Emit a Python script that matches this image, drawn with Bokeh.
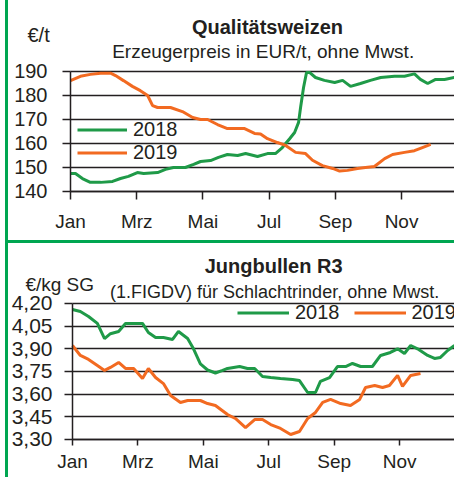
from bokeh.plotting import figure
from bokeh.models import Range1d, FixedTicker, Legend, LegendItem, Label, Div
from bokeh.layouts import row, column
from bokeh.embed import file_html
from bokeh.resources import INLINE

# ---------------- data ----------------
month_ticks = [0, 2, 4, 6, 8, 10]
month_labels = ["Jan", "Mrz", "Mai", "Jul", "Sep", "Nov"]

weizen_ticks = [140, 150, 160, 170, 180, 190]
weizen_labels = ["140", "150", "160", "170", "180", "190"]

weizen_2018_x = [0, 0.15, 0.36, 0.60, 0.91, 1.27, 1.51, 1.75, 2.02, 2.21, 2.63, 2.87, 3.11, 3.47,
                 3.72, 3.93, 4.23, 4.47, 4.74, 5.05, 5.29, 5.65, 5.95, 6.19, 6.40, 6.62, 6.77,
                 6.89, 6.95, 7.04, 7.13, 7.22, 7.40, 7.67, 7.98, 8.22, 8.46, 8.76, 9.06, 9.37,
                 9.79, 10.09, 10.39, 10.57, 10.79, 11.03, 11.30, 11.60]
weizen_2018_y = [147.5, 147.5, 145.4, 143.8, 143.8, 144.2, 145.4, 146.3, 147.9, 147.5, 147.9, 149.2,
                 150.0, 150.0, 151.3, 152.5, 152.9, 154.2, 155.4, 155.0, 155.8, 154.6, 155.8, 155.8,
                 158.3, 162.0, 164.6, 168.8, 175.0, 183.3, 189.6, 189.6, 187.5, 186.3, 185.4, 186.3,
                 183.8, 185.0, 186.3, 187.5, 188.0, 188.0, 189.0, 186.7, 185.0, 186.7, 186.7, 187.5]

weizen_2019_x = [0, 0.30, 0.60, 0.91, 1.21, 1.36, 1.60, 1.87, 2.11, 2.33, 2.48, 2.63, 3.02, 3.38,
                 3.69, 3.93, 4.14, 4.44, 4.74, 5.26, 5.56, 5.74, 5.95, 6.25, 6.50, 6.80, 7.10,
                 7.31, 7.61, 7.92, 8.13, 8.37, 8.67, 8.91, 9.18, 9.49, 9.73, 10.09, 10.39, 10.63,
                 10.88]
weizen_2019_y = [186.2, 188.0, 188.8, 189.3, 189.3, 188.3, 186.2, 183.8, 182.0, 180.0, 175.8, 175.0,
                 175.0, 173.3, 170.8, 170.0, 170.0, 167.9, 166.2, 166.2, 164.2, 164.0, 162.0, 160.4,
                 159.2, 156.3, 155.8, 153.0, 150.8, 149.6, 148.5, 148.8, 149.6, 150.0, 150.4, 153.7,
                 155.4, 156.3, 157.0, 158.3, 159.6]

bullen_ticks = [3.30, 3.45, 3.60, 3.75, 3.90, 4.05, 4.20]
bullen_labels = ["3,30", "3,45", "3,60", "3,75", "3,90", "4,05", "4,20"]

bullen_2018_x = [0, 0.24, 0.49, 0.76, 0.98, 1.16, 1.41, 1.62, 2.14, 2.32, 2.54, 2.78, 3.06, 3.24,
                 3.52, 3.70, 3.91, 4.13, 4.37, 4.59, 4.74, 5.11, 5.35, 5.57, 5.81, 6.06, 6.36,
                 6.73, 6.94, 7.19, 7.43, 7.58, 7.86, 8.10, 8.35, 8.56, 8.81, 9.17, 9.42, 9.72,
                 9.94, 10.15, 10.34, 10.55, 10.86, 11.07, 11.25, 11.47, 11.68]
bullen_2018_y = [4.160, 4.147, 4.114, 4.068, 3.968, 4.000, 4.015, 4.068, 4.068, 4.008, 3.975, 3.975,
                 3.962, 4.015, 3.968, 3.900, 3.800, 3.760, 3.740, 3.757, 3.770, 3.783, 3.770, 3.770,
                 3.717, 3.710, 3.704, 3.697, 3.690, 3.611, 3.611, 3.684, 3.710, 3.783, 3.783, 3.803,
                 3.783, 3.783, 3.856, 3.876, 3.900, 3.869, 3.922, 3.900, 3.856, 3.836, 3.843, 3.889,
                 3.922]

bullen_2019_x = [0, 0.24, 0.49, 0.76, 0.98, 1.16, 1.41, 1.62, 1.87, 2.14, 2.32, 2.54, 2.78, 3.00,
                 3.30, 3.52, 3.91, 4.13, 4.37, 4.74, 4.98, 5.29, 5.57, 5.81, 6.06, 6.36, 6.67,
                 6.94, 7.19, 7.43, 7.65, 7.89, 8.20, 8.50, 8.78, 8.96, 9.24, 9.48, 9.69, 9.94,
                 10.09, 10.34, 10.64]
bullen_2019_y = [3.922, 3.856, 3.830, 3.790, 3.757, 3.777, 3.810, 3.770, 3.770, 3.704, 3.770, 3.710,
                 3.670, 3.591, 3.545, 3.558, 3.558, 3.538, 3.525, 3.465, 3.439, 3.379, 3.432, 3.432,
                 3.399, 3.373, 3.333, 3.353, 3.439, 3.479, 3.545, 3.565, 3.538, 3.525, 3.565, 3.644,
                 3.657, 3.644, 3.657, 3.724, 3.651, 3.724, 3.737]

# ---------------- style ----------------
GREEN = "#1f9a48"
ORANGE = "#f26a21"
BORDER = "#00a651"
INK = "#231f20"
FONT = "Liberation Sans"


def make_panel(xr, yr, height, xend, yticks, ylabels, ysize, ystand, xtick_out, xstand):
    p = figure(width=446, height=height, x_range=Range1d(*xr), y_range=Range1d(*yr),
               output_backend="svg", toolbar_location=None, min_border=0,
               min_border_left=0, min_border_right=0, min_border_top=0, min_border_bottom=0)
    p.outline_line_color = None
    p.xgrid.visible = False
    p.ygrid.ticker = FixedTicker(ticks=yticks)
    p.ygrid.grid_line_color = INK
    p.ygrid.grid_line_width = 1.5
    g = p.ygrid[0]
    if "cross_bounds" in g.properties():
        g.cross_bounds = (0, xend)
    else:
        g.visible = False
        n = len(yticks)
        p.segment(x0=[0] * n, x1=[xend] * n, y0=yticks, y1=yticks, line_color=INK, line_width=1.5)
    xa, ya = p.xaxis[0], p.yaxis[0]
    for ax in (xa, ya):
        ax.axis_line_color = INK
        ax.axis_line_width = 1.5
        ax.major_tick_line_color = INK
        ax.major_tick_line_width = 1.5
        ax.major_tick_in = 0
        ax.minor_tick_in = 0
        ax.minor_tick_out = 0
        ax.major_label_text_color = INK
    xa.fixed_location = yticks[0]
    xa.bounds = (0, xend)
    xa.ticker = FixedTicker(ticks=month_ticks)
    xa.major_label_overrides = {t: l for t, l in zip(month_ticks, month_labels)}
    xa.major_label_text_font = FONT
    xa.major_label_text_font_size = "19px"
    xa.major_tick_out = xtick_out
    xa.major_label_standoff = xstand
    ya.fixed_location = 0
    ya.ticker = FixedTicker(ticks=yticks)
    ya.bounds = (yticks[0], yticks[-1])
    ya.major_label_overrides = {t: l for t, l in zip(yticks, ylabels)}
    ya.major_label_text_font = FONT
    ya.major_label_text_font_size = ysize
    ya.major_tick_out = 8
    ya.major_label_standoff = ystand
    return p


def text(p, x, y, s, size, align="center", bold=False):
    p.add_layout(Label(x=x, y=y, text=s, text_align=align, text_baseline="alphabetic",
                       text_font=FONT, text_font_style="bold" if bold else "normal",
                       text_font_size=size, text_color=INK))


# ---------------- top chart ----------------
p1 = make_panel((-1.873, 11.6), (119.58, 219.58), 240, 11.6,
                weizen_ticks, weizen_labels, "20px", 15, 8, 12)

r18 = p1.line(weizen_2018_x, weizen_2018_y, line_color=GREEN, line_width=3)
r19 = p1.line(weizen_2019_x, weizen_2019_y, line_color=ORANGE, line_width=3)

leg1 = Legend(items=[LegendItem(label="2018", renderers=[r18]), LegendItem(label="2019", renderers=[r19])],
              location=(69, 76), orientation="vertical", glyph_width=50, glyph_height=23,
              label_height=23, label_standoff=6, spacing=0, padding=0, margin=0,
              label_text_font=FONT, label_text_font_size="20px", label_text_color=INK,
              border_line_color=None, background_fill_alpha=0)
p1.add_layout(leg1)

text(p1, 5.95, 208.4, "Qualitätsweizen", "20px", bold=True)
text(p1, 5.82, 198.4, "Erzeugerpreis in EUR/t, ohne Mwst.", "19px")
text(p1, -1.30, 205.4, "€/t", "20px", align="left")

# ---------------- bottom chart ----------------
p2 = make_panel((-1.957, 11.68), (3.0485, 4.597), 234, 11.68,
                bullen_ticks, bullen_labels, "21px", 12, 6, 6)

b18 = p2.line(bullen_2018_x, bullen_2018_y, line_color=GREEN, line_width=3)
b19 = p2.line(bullen_2019_x, bullen_2019_y, line_color=ORANGE, line_width=3)

leg2 = Legend(items=[LegendItem(label="2018", renderers=[b18]), LegendItem(label="2019", renderers=[b19])],
              location=(229, 153), orientation="horizontal", glyph_width=52, glyph_height=23,
              label_height=23, label_standoff=6, spacing=14, padding=0, margin=0,
              label_text_font=FONT, label_text_font_size="20px", label_text_color=INK,
              border_line_color=None, background_fill_alpha=0)
p2.add_layout(leg2)

text(p2, 6.15, 4.445, "Jungbullen R3", "20px", bold=True)
text(p2, 6.18, 4.273, "(1.FIGDV) für Schlachtrinder, ohne Mwst.", "18px")
text(p2, -1.44, 4.326, "€/kg SG", "19px", align="left")

# ---------------- frame decorations ----------------
gap = Div(text="", width=5, height=477, margin=0)
vbar = Div(text="", width=3, height=477, margin=0, styles={"background-color": BORDER})
hbar = Div(text="", width=446, height=3, margin=0, styles={"background-color": BORDER})

layout = row(gap, vbar, column(p1, hbar, p2, spacing=0), spacing=0)

open("out.html", "w").write(file_html(layout, INLINE))
